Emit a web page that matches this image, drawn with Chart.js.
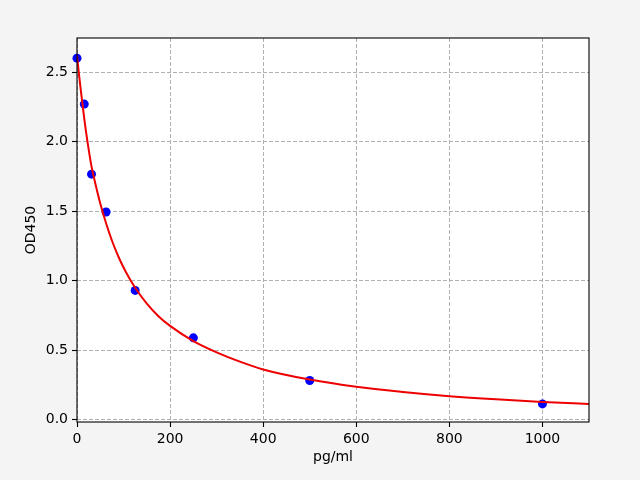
<!DOCTYPE html>
<html><head><meta charset="utf-8">
<script src="https://cdn.jsdelivr.net/npm/chart.js@4.4.0/dist/chart.umd.min.js"></script>
<style>html,body{margin:0;padding:0;background:#f4f4f4;} #wrap{width:640px;height:480px;position:relative;}</style>
</head><body><div id="wrap"><canvas id="c" width="640" height="480"></canvas></div>
<script>
// Standard points
const stdX = [0, 15.6, 31.25, 62.5, 125, 250, 500, 1000];
const stdY = [2.60, 2.27, 1.766, 1.494, 0.93, 0.589, 0.282, 0.114];
// Fitted curve
const curveX = [0, 2, 5, 10, 15.6, 22, 31.25, 40, 50, 62.5, 75, 90, 105, 125, 150, 175, 200, 250, 300, 350, 400, 500, 600, 700, 800, 900, 1000, 1100];
const curveY = [2.62, 2.556, 2.462, 2.319, 2.165, 2.01, 1.82, 1.69, 1.555, 1.413, 1.289, 1.165, 1.0625, 0.949, 0.835, 0.745, 0.675, 0.566, 0.485, 0.418, 0.362, 0.289, 0.237, 0.200, 0.170, 0.147, 0.1285, 0.113];
const xTicks = [0, 200, 400, 600, 800, 1000];
const yTicks = [0, 0.5, 1.0, 1.5, 2.0, 2.5];
const xLabel = 'pg/ml';
const yLabel = 'OD450';

const FONT = 'DejaVu Sans';

const bgPlugin = {
  id: 'bg',
  beforeDraw(chart) {
    const {ctx, chartArea: a} = chart;
    ctx.save();
    ctx.fillStyle = '#f4f4f4';
    ctx.fillRect(0, 0, chart.width, chart.height);
    ctx.fillStyle = '#ffffff';
    ctx.fillRect(a.left, a.top, a.right - a.left, a.bottom - a.top);
    ctx.restore();
  },
  afterDatasetsDraw(chart) {
    const {ctx, chartArea: a} = chart;
    ctx.save();
    ctx.strokeStyle = '#000';
    ctx.lineWidth = 1.1;
    ctx.setLineDash([]);
    ctx.strokeRect(a.left, a.top, a.right - a.left, a.bottom - a.top);
    ctx.restore();
  }
};

new Chart(document.getElementById('c'), {
  data: {
    datasets: [
      {
        type: 'line',
        data: curveX.map((x, i) => ({x, y: curveY[i]})),
        borderColor: '#ee0000',
        borderWidth: 2,
        pointRadius: 0,
        fill: false,
        cubicInterpolationMode: 'monotone',
        order: 0
      },
      {
        type: 'scatter',
        data: stdX.map((x, i) => ({x, y: stdY[i]})),
        backgroundColor: '#0000ff',
        borderColor: '#0000ff',
        pointRadius: 4.5,
        borderWidth: 0,
        clip: false,
        order: 1
      }
    ]
  },
  options: {
    responsive: false,
    animation: false,
    devicePixelRatio: 1,
    layout: {padding: {left: 0, right: 51, top: 38, bottom: 0}},
    plugins: {legend: {display: false}, tooltip: {enabled: false}},
    scales: {
      x: {
        type: 'linear', min: 0, max: 1100,
        afterBuildTicks(s) { s.ticks = xTicks.map(v => ({value: v})); },
        afterFit(s) { s.height = 58; },
        ticks: {color: '#000', font: {family: FONT, size: 14}, padding: 4, maxRotation: 0,
                callback: v => String(v)},
        grid: {color: '#b0b0b0', lineWidth: 1, tickLength: 5, tickColor: '#000', tickWidth: 1.1},
        border: {display: false, dash: [4, 2]},
        title: {display: true, text: xLabel, color: '#000', font: {family: FONT, size: 14}, padding: {top: 0, bottom: 14}}
      },
      y: {
        type: 'linear', min: -0.016, max: 2.745,
        afterBuildTicks(s) { s.ticks = yTicks.map(v => ({value: v})); },
        afterFit(s) { s.width = 77; },
        ticks: {color: '#000', font: {family: FONT, size: 14}, padding: 4,
                callback: v => Number(v).toFixed(1)},
        grid: {color: '#b0b0b0', lineWidth: 1, tickLength: 5, tickColor: '#000', tickWidth: 1.1},
        border: {display: false, dash: [4, 2]},
        title: {display: true, text: yLabel, color: '#000', font: {family: FONT, size: 14}, padding: {top: 23, bottom: 0}}
      }
    }
  },
  plugins: [bgPlugin]
});
</script>
</body></html>
